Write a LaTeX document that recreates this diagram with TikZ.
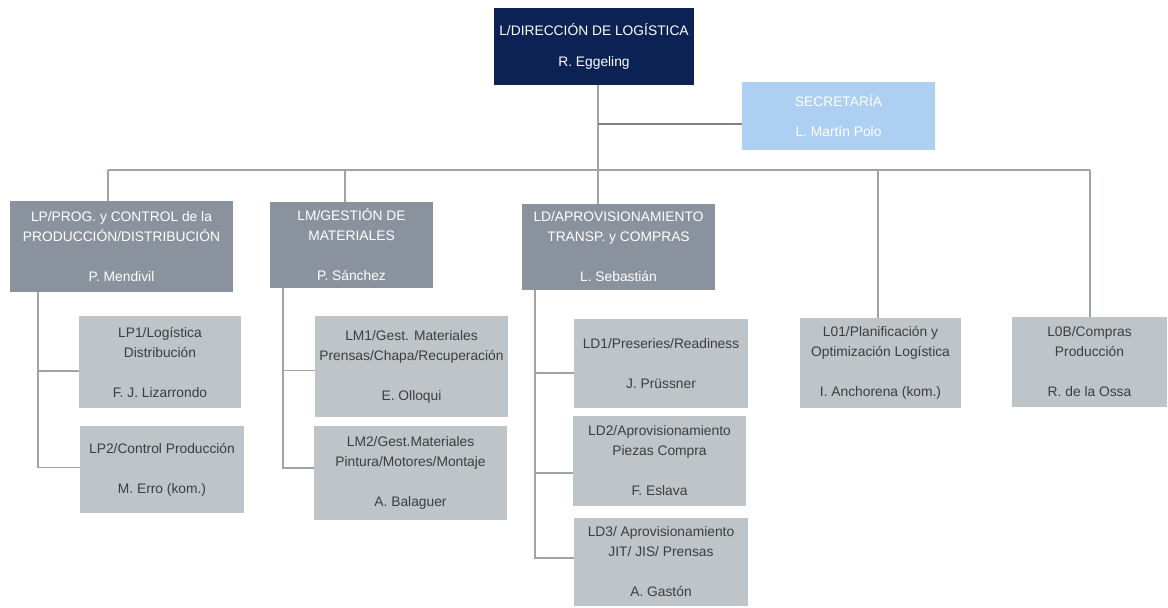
\documentclass[tikz,border=0pt]{standalone}
\usepackage{fontspec}
\setmainfont{Liberation Sans}
\usepackage{tikz}

\definecolor{navyBox}{RGB}{12,33,84}
\definecolor{skyBox}{RGB}{173,208,242}
\definecolor{slateBox}{RGB}{138,146,157}
\definecolor{paleBox}{RGB}{190,196,200}
\definecolor{lineGray}{RGB}{158,163,168}
\definecolor{textGray}{RGB}{62,62,62}

\tikzset{
  orgBox/.style={rectangle, inner sep=0pt, align=center, font=\fontsize{13.8}{20}\selectfont},
  headBox/.style={orgBox, fill=navyBox, text=white},
  secBox/.style={orgBox, fill=skyBox, text=white},
  mgrBox/.style={orgBox, fill=slateBox, text=white},
  subBox/.style={orgBox, fill=paleBox, text=textGray},
  orgLine/.style={draw=lineGray, line width=1.8pt},
  secLine/.style={draw=lineGray!80!black, line width=2.6pt}
}

\begin{document}
\begin{tikzpicture}[x=1pt, y=-1pt]
        \useasboundingbox (0,0) rectangle (1168,608);

        \node[headBox, minimum width=200pt, minimum height=77pt] (dirNode) at (594, 46.5) {L/DIRECCIÓN DE LOGÍSTICA\\[11pt]R. Eggeling};
        \node[secBox, minimum width=193pt, minimum height=68pt] (secNode) at (838.5, 116) {SECRETARÍA\\[10pt]L. Martín Polo};

        \node[mgrBox, minimum width=223pt, minimum height=91pt] (lpNode) at (121.5, 246.5) {LP/PROG. y CONTROL de la\\PRODUCCIÓN/DISTRIBUCIÓN\\[20pt]P. Mendivil};
        \node[mgrBox, minimum width=163pt, minimum height=86pt] (lmNode) at (351.5, 245) {LM/GESTIÓN DE\\MATERIALES\\[20pt]P. Sánchez};
        \node[mgrBox, minimum width=193pt, minimum height=86pt] (ldNode) at (618.5, 247) {LD/APROVISIONAMIENTO\\TRANSP. y COMPRAS\\[20pt]L. Sebastián};
        \node[subBox, minimum width=161pt, minimum height=90pt] (l01Node) at (880.5, 363) {L01/Planificación y\\Optimización Logística\\[20pt]I. Anchorena (kom.)};
        \node[subBox, minimum width=155pt, minimum height=90pt] (l0bNode) at (1089.5, 362) {L0B/Compras\\Producción\\[20pt]R. de la Ossa};

        \node[subBox, minimum width=162pt, minimum height=92pt] (lp1Node) at (160, 362) {LP1/Logística\\Distribución\\[20pt]F. J. Lizarrondo};
        \node[subBox, minimum width=164pt, minimum height=87pt] (lp2Node) at (162, 469.5) {LP2/Control Producción\\[20pt]M. Erro (kom.)};

        \node[subBox, minimum width=193pt, minimum height=101pt] (lm1Node) at (411.5, 366.5) {LM1/Gest. Materiales\\Prensas/Chapa/Recuperación\\[20pt]E. Olloqui};
        \node[subBox, minimum width=193pt, minimum height=94pt] (lm2Node) at (410.5, 473) {LM2/Gest.Materiales\\Pintura/Motores/Montaje\\[20pt]A. Balaguer};

        \node[subBox, minimum width=174pt, minimum height=89pt] (ld1Node) at (661, 363.5) {LD1/Preseries/Readiness\\[20pt]J. Prüssner};
        \node[subBox, minimum width=173pt, minimum height=90pt] (ld2Node) at (659.5, 461) {LD2/Aprovisionamiento\\Piezas Compra\\[20pt]F. Eslava};
        \node[subBox, minimum width=174pt, minimum height=88pt] (ld3Node) at (661, 562) {LD3/ Aprovisionamiento\\JIT/ JIS/ Prensas\\[20pt]A. Gastón};

        % main bus
        \coordinate (trunkTop) at ([xshift=4pt]dirNode.south);
        \coordinate (busL) at (108, 170);
        \coordinate (busLM) at (345, 170);
        \coordinate (busLO) at (878, 170);
        \coordinate (busR) at (1090, 170);

        \draw[orgLine] (busL) -- (busR);
        \draw[orgLine] (trunkTop) -- (trunkTop |- ldNode.north);
        \draw[secLine] (trunkTop |- secNode.west) ++(0,8) -- ([yshift=-8pt]secNode.west);
        \draw[orgLine] (busL) -- (busL |- lpNode.north);
        \draw[orgLine] (busLM) -- (busLM |- lmNode.north);
        \draw[orgLine] (busLO) -- (busLO |- l01Node.north);
        \draw[orgLine] (busR) -- (busR |- l0bNode.north);

        % sub trees
        \coordinate (lpTrunk) at ([xshift=28pt]lpNode.south west);
        \coordinate (lmTrunk) at ([xshift=13pt]lmNode.south west);
        \coordinate (ldTrunk) at ([xshift=13pt]ldNode.south west);

        \draw[orgLine] (lpTrunk) |- ([yshift=-9pt]lp1Node.west);
        \draw[orgLine] (lpTrunk) |- ([yshift=2pt]lp2Node.west);
        \draw[orgLine] (lmTrunk) |- ([yshift=-4pt]lm1Node.west);
        \draw[orgLine] (lmTrunk) |- ([yshift=5pt]lm2Node.west);
        \draw[orgLine] (ldTrunk) |- ([yshift=-9.5pt]ld1Node.west);
        \draw[orgLine] (ldTrunk) |- ([yshift=-12pt]ld2Node.west);
        \draw[orgLine] (ldTrunk) |- ([yshift=4pt]ld3Node.west);
\end{tikzpicture}
\end{document}
